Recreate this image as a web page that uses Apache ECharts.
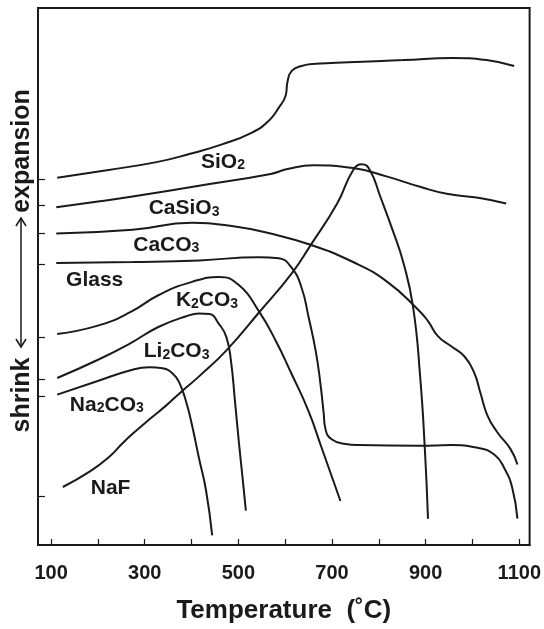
<!DOCTYPE html>
<html>
<head>
<meta charset="utf-8">
<script src="https://cdn.jsdelivr.net/npm/echarts@6/dist/echarts.min.js"></script>
<style>
  html, body { margin: 0; padding: 0; background: #fff; }
  #chart { width: 544px; height: 629px; }
</style>
</head>
<body>
<div id="chart"></div>
<script>
// dilatometer curves, x = temperature (C), y = relative length (arbitrary units)
const sio2X = [113, 219, 325, 395, 465, 529, 565, 586, 601, 605, 614, 635, 665, 735, 852, 958, 1030, 1089];
const sio2Y = [68.4, 69.8, 71.3, 72.8, 74.6, 76.8, 79.0, 81.4, 83.7, 86.3, 88.3, 89.2, 89.6, 89.9, 90.3, 90.7, 90.3, 89.2];

const casio3X = [111, 204, 274, 416, 569, 605, 660, 745, 818, 888, 945, 1009, 1072];
const casio3Y = [62.9, 64.0, 64.9, 66.9, 69.1, 70.0, 70.7, 70.2, 68.6, 66.7, 65.4, 64.7, 63.6];

const caco3X = [111, 274, 401, 486, 569, 654, 745, 818, 883, 905, 926, 953, 983, 1004, 1017, 1032, 1053, 1081, 1096];
const caco3Y = [58.0, 58.7, 60.0, 59.4, 58.0, 55.9, 52.7, 49.0, 43.9, 41.7, 38.9, 37.1, 35.1, 32.0, 28.3, 24.1, 21.0, 17.9, 15.0];

const glassX = [111, 274, 416, 544, 586, 614, 635, 650, 665, 675, 682, 686, 699, 729, 756, 888, 953, 1011, 1047, 1068, 1085, 1096];
const glassY = [52.5, 52.7, 53.0, 53.6, 53.4, 51.6, 47.9, 42.4, 36.2, 30.2, 24.7, 21.6, 19.7, 18.8, 18.6, 18.5, 18.6, 18.1, 16.8, 14.3, 10.6, 4.9];

const k2co3X = [113, 198, 268, 331, 401, 459, 501, 544, 580, 614, 650, 677, 718];
const k2co3Y = [39.3, 40.8, 43.3, 46.6, 49.0, 49.9, 48.4, 43.5, 38.0, 31.8, 24.9, 18.3, 8.2];

const li2co3X = [113, 198, 268, 329, 389, 416, 438, 459, 474, 484, 493, 501, 508, 516];
const li2co3Y = [31.1, 34.4, 37.5, 40.6, 42.6, 43.1, 43.0, 41.1, 38.8, 34.4, 26.5, 19.2, 13.3, 6.4];

const na2co3X = [113, 198, 268, 310, 338, 359, 374, 389, 401, 416, 431, 444];
const na2co3Y = [28.0, 30.5, 32.5, 33.1, 32.9, 32.0, 30.2, 26.5, 22.3, 16.1, 10.1, 1.8];

const nafX = [125, 183, 225, 251, 274, 310, 346, 380, 416, 474, 544, 614, 654, 711, 745, 764, 781, 803, 830, 852, 873, 888, 898, 905];
const nafY = [10.8, 13.7, 16.5, 18.8, 20.7, 23.4, 26.0, 28.7, 31.4, 36.2, 43.3, 50.6, 55.8, 63.6, 69.8, 70.9, 69.8, 64.9, 58.5, 52.7, 44.4, 31.6, 18.3, 4.9];

// curve names and where their labels sit (data coords)
const labelNames = ['SiO2', 'CaSiO3', 'CaCO3', 'Glass', 'K2CO3', 'Li2CO3', 'Na2CO3', 'NaF'];
const labelX = [467, 384, 346, 193, 433, 368, 219, 227];
const labelY = [71.3, 62.7, 55.9, 49.4, 45.5, 36.0, 26.1, 10.6];

// starting levels marked on the left axis
const yTickValues = [68.1, 63.3, 58.0, 52.2, 38.7, 30.9, 27.7, 9.1];
const xTickValues = [100, 200, 300, 400, 500, 600, 700, 800, 900, 1000, 1100];
const xLabelValues = [100, 300, 500, 700, 900, 1100];

const curves = [
    [sio2X, sio2Y],
    [casio3X, casio3Y],
    [caco3X, caco3Y],
    [glassX, glassY],
    [k2co3X, k2co3Y],
    [li2co3X, li2co3Y],
    [na2co3X, na2co3Y],
    [nafX, nafY],
];

const ink = '#1a1a1a';
const sans = 'Liberation Sans, Arial, sans-serif';

const chart = echarts.init(document.getElementById('chart'));

const lineSeries = curves.map((c, i) => ({
    name: labelNames[i],
    type: 'line',
    data: c[0].map((x, j) => [x, c[1][j]]),
    showSymbol: false,
    smooth: 0.5,
    lineStyle: { color: ink, width: 2 },
    silent: true,
}));

const labelSeries = {
    type: 'scatter',
    symbolSize: 0,
    silent: true,
    itemStyle: { opacity: 1, color: ink },
    data: labelNames.map((n, i) => [labelX[i], labelY[i], n]),
    label: {
        show: true,
        position: 'inside',
        formatter: p => p.data[2].replace(/(\d)/g, '{s|$1}'),
        fontFamily: sans,
        fontWeight: 'bold',
        fontSize: 21,
        color: ink,
        opacity: 1,
        textBorderWidth: 0,
        rich: {
            s: {
                fontFamily: sans,
                fontWeight: 'bold',
                fontSize: 14,
                color: ink,
                verticalAlign: 'bottom',
            },
        },
    },
};

chart.setOption({
    animation: false,
    grid: {
        left: 38,
        right: 12,
        top: 8,
        bottom: 74,
        show: true,
        borderColor: ink,
        borderWidth: 2,
    },
    xAxis: {
        type: 'value',
        min: 72,
        max: 1122,
        name: 'Temperature  (\u02daC)',
        nameLocation: 'middle',
        nameGap: 53,
        nameTextStyle: {
            fontFamily: sans,
            fontWeight: 'bold',
            fontSize: 26,
            color: ink,
            verticalAlign: 'top',
        },
        splitLine: { show: false },
        axisLine: { lineStyle: { color: ink, width: 2 } },
        axisTick: {
            inside: true,
            length: 6,
            customValues: xTickValues,
            lineStyle: { color: ink, width: 1.2 },
        },
        axisLabel: {
            customValues: xLabelValues,
            formatter: v => String(v),
            margin: 18,
            fontFamily: sans,
            fontWeight: 'bold',
            fontSize: 20,
            color: ink,
        },
    },
    yAxis: {
        type: 'value',
        min: 0,
        max: 100,
        splitLine: { show: false },
        axisLine: { show: true, lineStyle: { color: ink, width: 2 } },
        axisTick: {
            show: true,
            inside: true,
            length: 7,
            customValues: yTickValues,
            lineStyle: { color: ink, width: 1.2 },
        },
        axisLabel: { show: false },
    },
    graphic: [
        {
            type: 'text',
            x: 22, y: 151,
            rotation: Math.PI / 2,
            style: {
                text: 'expansion',
                fontFamily: sans,
                fontWeight: 'bold', fontSize: 25, fill: ink,
                align: 'center', verticalAlign: 'middle',
            },
        },
        {
            type: 'text',
            x: 22, y: 395,
            rotation: Math.PI / 2,
            style: {
                text: 'shrink',
                fontFamily: sans,
                fontWeight: 'bold', fontSize: 25, fill: ink,
                align: 'center', verticalAlign: 'middle',
            },
        },
        {
            type: 'line',
            shape: { x1: 21, y1: 218, x2: 21, y2: 347 },
            style: { stroke: ink, lineWidth: 1.5 },
        },
        {
            type: 'polyline',
            shape: { points: [[16, 226], [21, 218], [26, 226]] },
            style: { stroke: ink, lineWidth: 1.5, fill: null },
        },
        {
            type: 'polyline',
            shape: { points: [[16, 339], [21, 347], [26, 339]] },
            style: { stroke: ink, lineWidth: 1.5, fill: null },
        },
    ],
    series: lineSeries.concat([labelSeries]),
});
</script>
</body>
</html>
